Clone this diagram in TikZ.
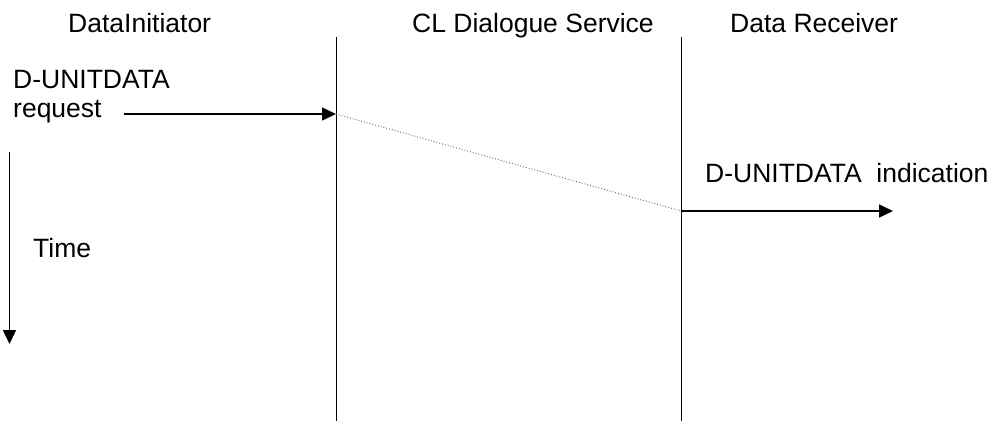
\documentclass[tikz,border=0pt]{standalone}
\usepackage{fontspec}
\setmainfont{Liberation Sans}
\usetikzlibrary{arrows.meta}
\begin{document}
\begin{tikzpicture}[x=1pt,y=-1pt,
  lbl/.style={anchor=base west,inner sep=0pt,font=\fontsize{26.5}{30}\selectfont},
  life/.style={draw=black,line width=1pt},
  msg/.style={draw=black,line width=1.5pt,-{Triangle[length=14pt,width=13pt]}},
  transit/.style={draw=black!60,line width=0.9pt,dotted}]
\useasboundingbox (0,0) rectangle (999,421);
% headings
\node[lbl] (hInit) at (68,32) {DataInitiator};
\node[lbl] (hServ) at (412,32) {CL Dialogue Service};
\node[lbl] (hRecv) at (730,32) {Data Receiver};
% lifelines
\coordinate (l1top) at (336,37);
\coordinate (l1bot) at (336,421);
\coordinate (l2top) at (681,37);
\coordinate (l2bot) at (681,421);
\draw[life] (l1top) -- (l1bot);
\draw[life] (l2top) -- (l2bot);
% request
\node[lbl] (req1) at (13,88) {D-UNITDATA};
\node[lbl] (req2) at (13,117) {request};
\coordinate (reqS) at (124,114);
\coordinate (reqE) at (336,114);
\draw[msg] (reqS) -- (reqE);
% transit
\coordinate (indS) at (681,211);
\draw[transit] (reqE) -- (indS);
% indication
\node[lbl] (ind) at (705,182) {D-UNITDATA\ \ indication};
\coordinate (indE) at (893,211);
\draw[msg] (indS) -- (indE);
% time
\coordinate (tS) at (9.5,152);
\coordinate (tE) at (9.5,344);
\draw[msg] (tS) -- (tE);
\node[lbl] (time) at (33,257) {Time};
\end{tikzpicture}
\end{document}
